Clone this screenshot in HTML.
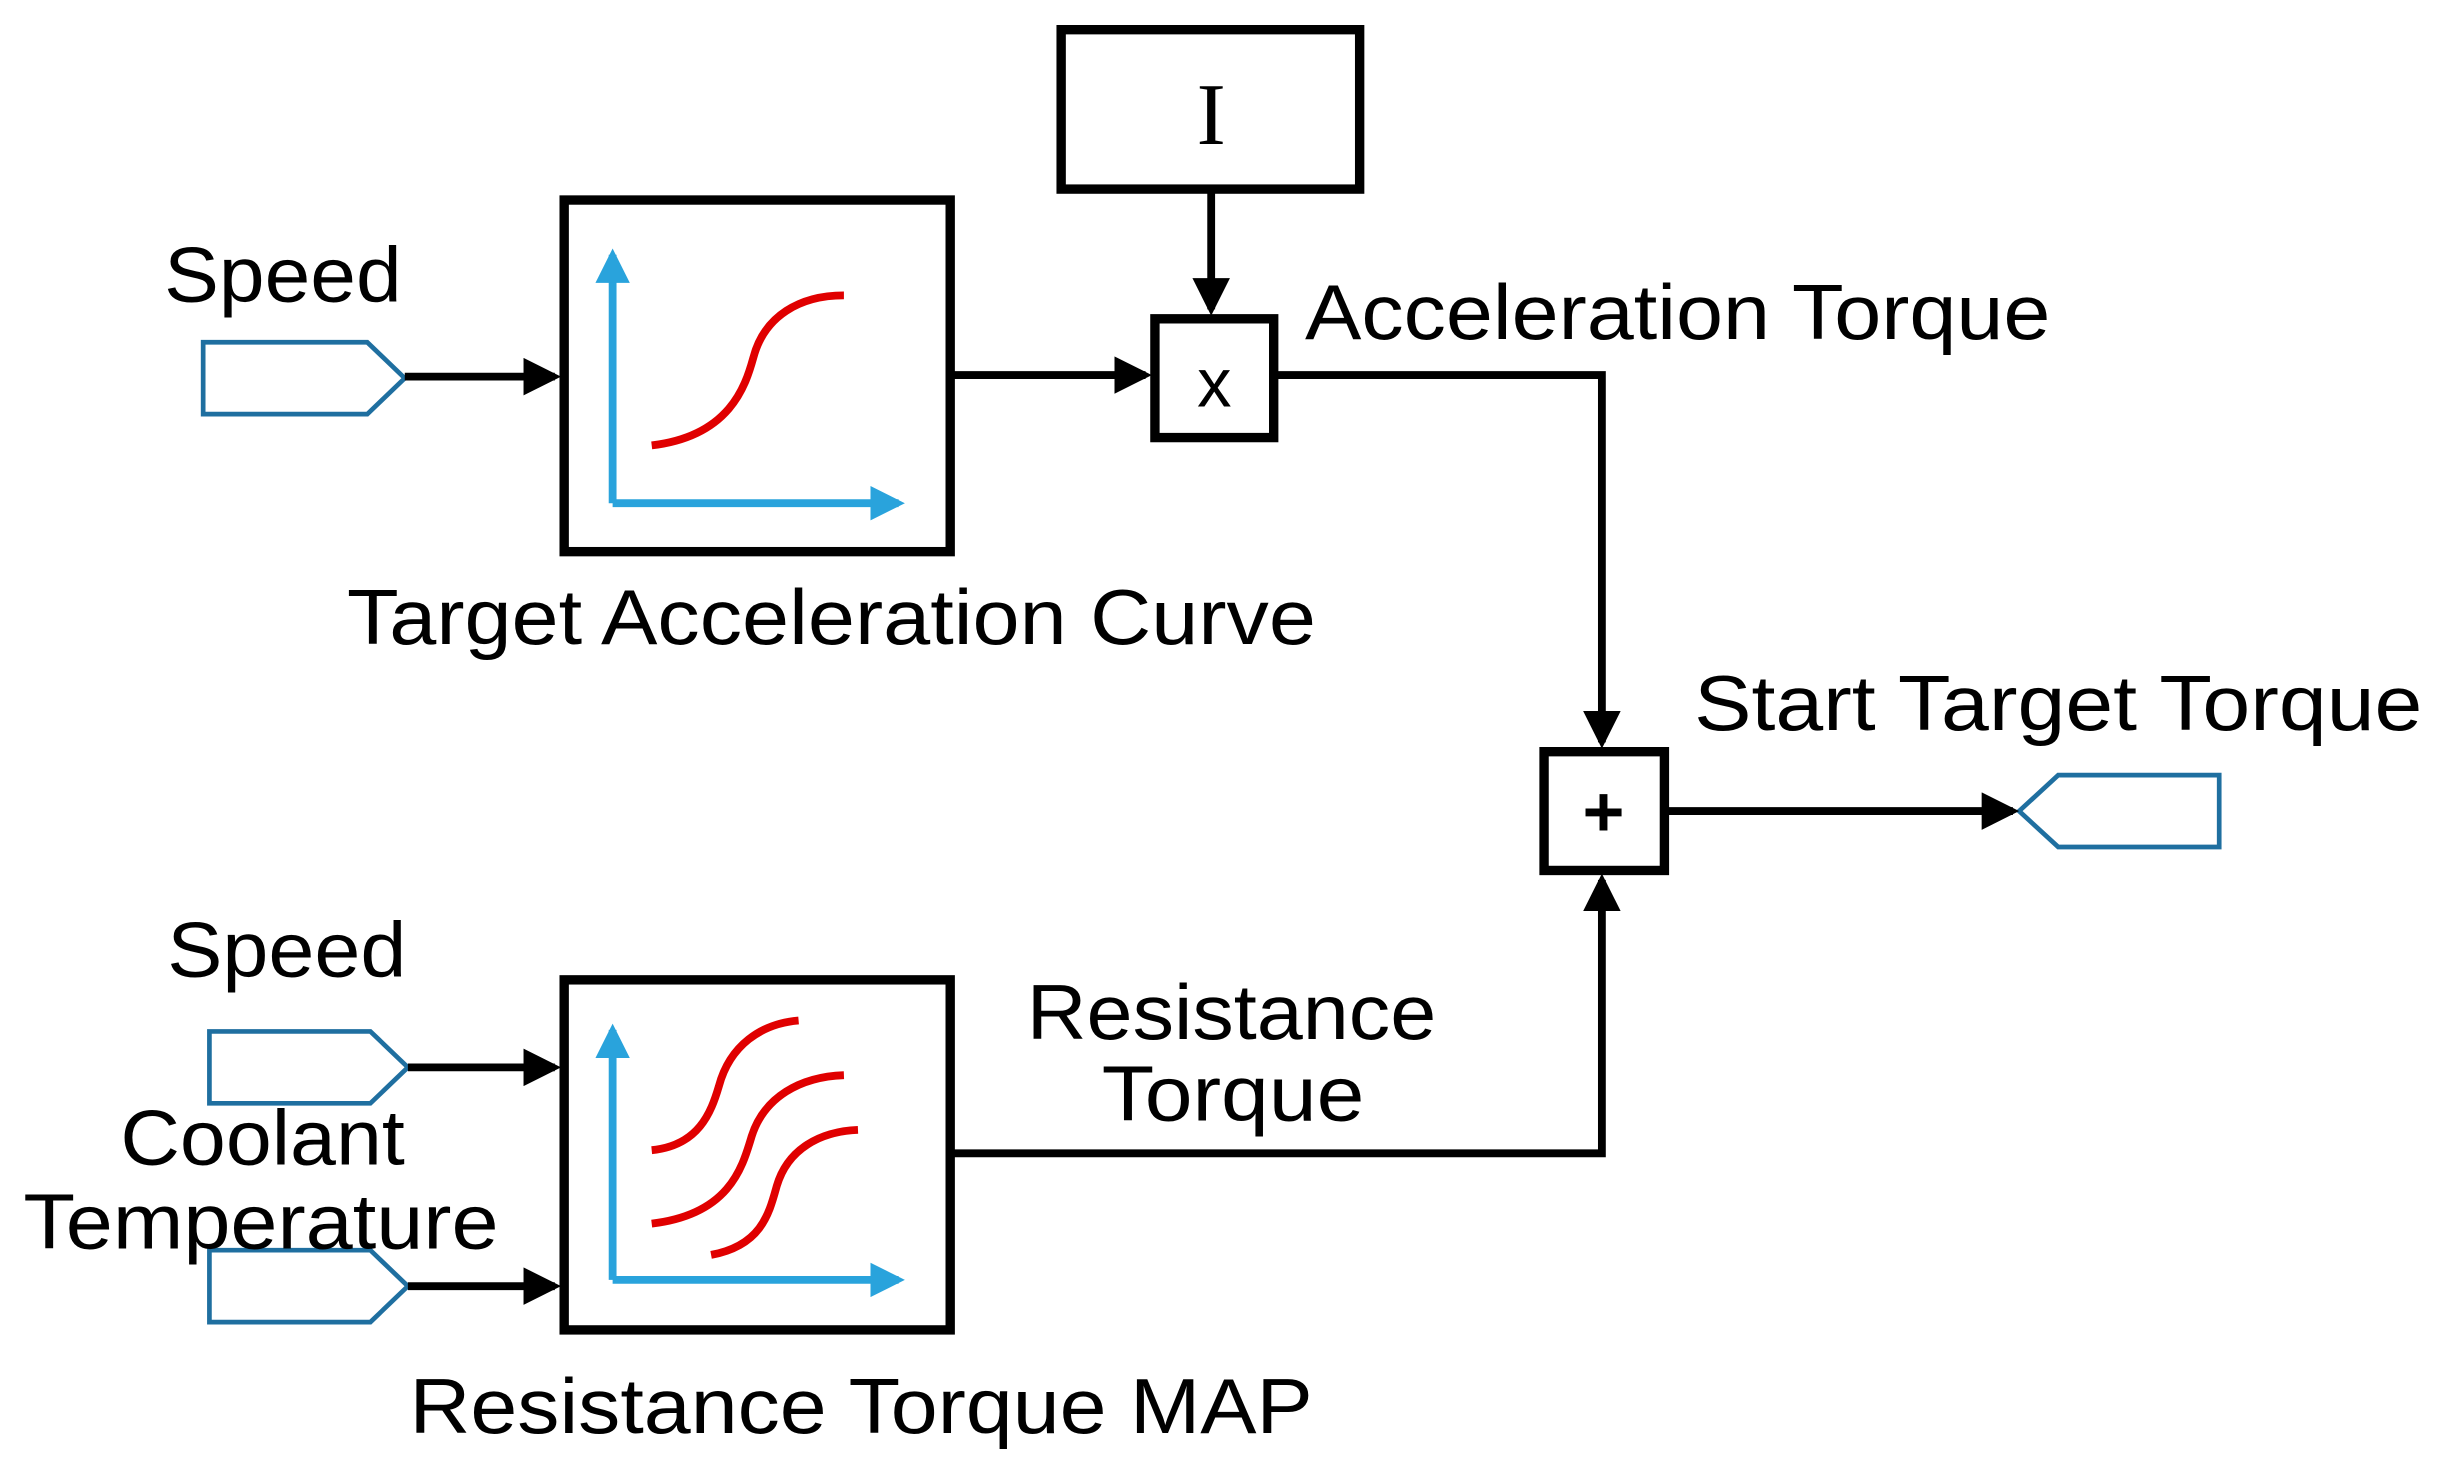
<!DOCTYPE html>
<html><head><meta charset="utf-8"><style>
html,body{margin:0;padding:0;background:#fff;}
svg{display:block;}
text{font-family:"Liberation Sans",sans-serif;font-size:50px;fill:#000;}
</style></head><body>
<svg width="2438" height="1469" viewBox="0 0 1560 940" preserveAspectRatio="none" xmlns="http://www.w3.org/2000/svg">
<defs>
<marker id="ab" markerWidth="4.8" markerHeight="4.8" refX="4" refY="2.4" orient="auto" markerUnits="strokeWidth"><path d="M0,0 L4.8,2.4 L0,4.8 z" fill="#000"/></marker>
<marker id="bb" markerWidth="4.4" markerHeight="4.4" refX="3.6" refY="2.2" orient="auto" markerUnits="strokeWidth"><path d="M0,0 L4.4,2.2 L0,4.4 z" fill="#29a3dc"/></marker>
</defs>
<g transform="translate(-3,-3)">
<g fill="none" stroke="#1f6fa0" stroke-width="3">
<path d="M133,222 L238,222 L262,245 L238,268 L133,268 Z"/>
<path d="M137,663 L240,663 L264,686 L240,709 L137,709 Z"/>
<path d="M137,803 L240,803 L264,826 L240,849 L137,849 Z"/>
<path d="M1295,522 L1320,499 L1423,499 L1423,545 L1320,545 Z"/>
</g>
<g fill="none" stroke="#000" stroke-width="5">
<rect x="364" y="131" width="247" height="225" stroke-width="6"/>
<rect x="364" y="630" width="247" height="224" stroke-width="6"/>
<rect x="682" y="22" width="191" height="102" stroke-width="6"/>
<rect x="742" y="207" width="76" height="76" stroke-width="6"/>
<rect x="991" y="484" width="77" height="76" stroke-width="6"/>
<line x1="262" y1="244" x2="358" y2="244" marker-end="url(#ab)"/>
<line x1="611" y1="243" x2="736" y2="243" marker-end="url(#ab)"/>
<line x1="778" y1="124" x2="778" y2="201" marker-end="url(#ab)"/>
<polyline points="818,243 1028,243 1028,478" marker-end="url(#ab)"/>
<line x1="1068" y1="522" x2="1291" y2="522" marker-end="url(#ab)"/>
<line x1="264" y1="686" x2="358" y2="686" marker-end="url(#ab)"/>
<line x1="264" y1="826" x2="358" y2="826" marker-end="url(#ab)"/>
<polyline points="611,741 1028,741 1028,566" marker-end="url(#ab)"/>
</g>
<g fill="none" stroke="#29a3dc" stroke-width="5">
<line x1="395" y1="325" x2="578" y2="325" marker-end="url(#bb)"/>
<line x1="395" y1="325" x2="395" y2="166" marker-end="url(#bb)"/>
<line x1="395" y1="822" x2="578" y2="822" marker-end="url(#bb)"/>
<line x1="395" y1="822" x2="395" y2="662" marker-end="url(#bb)"/>
</g>
<g fill="none" stroke="#e00000" stroke-width="5">
<path d="M420,288 C470,282 480,250 485,232 C492,205 515,192 543,192"/>
<path d="M420,739 C450,736 458,715 463,698 C470,672 490,658 514,656"/>
<path d="M420,786 C470,780 478,750 484,730 C492,705 515,692 543,691"/>
<path d="M458,806 C490,800 495,780 500,762 C507,738 528,727 552,726"/>
</g>
<text x="108" y="196" textLength="152" lengthAdjust="spacingAndGlyphs">Speed</text>
<text x="225" y="415" textLength="620" lengthAdjust="spacingAndGlyphs">Target Acceleration Curve</text>
<text x="838" y="220" textLength="477" lengthAdjust="spacingAndGlyphs">Acceleration Torque</text>
<text x="1087" y="470" textLength="466" lengthAdjust="spacingAndGlyphs">Start Target Torque</text>
<text x="110" y="628" textLength="153" lengthAdjust="spacingAndGlyphs">Speed</text>
<text x="80" y="748" textLength="182" lengthAdjust="spacingAndGlyphs">Coolant</text>
<text x="18" y="802" textLength="304" lengthAdjust="spacingAndGlyphs">Temperature</text>
<text x="660" y="668" textLength="262" lengthAdjust="spacingAndGlyphs">Resistance</text>
<text x="708" y="720" textLength="168" lengthAdjust="spacingAndGlyphs">Torque</text>
<text x="265" y="920" textLength="578" lengthAdjust="spacingAndGlyphs">Resistance Torque MAP</text>
<text x="780" y="263" text-anchor="middle" style="font-size:44px">x</text>
<text x="1029" y="538" text-anchor="middle" style="font-size:46px;font-weight:bold">+</text>
<text x="778" y="95" text-anchor="middle" style="font-family:'Liberation Serif',serif;font-size:56px">I</text>
</g>
</svg>
</body></html>
